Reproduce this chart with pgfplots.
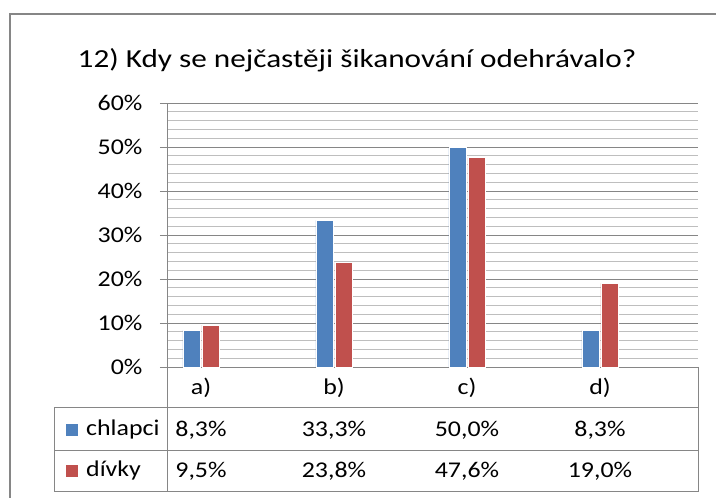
\documentclass[border=0pt]{standalone}
\usepackage{pgfplots}
\pgfplotsset{compat=1.18}
\usepackage{fontspec}
\setmainfont{Carlito}[FakeStretch=1.15]
\newfontfamily\titlefamily{Carlito}[FakeStretch=1.2]
\definecolor{cblue}{RGB}{79,129,189}
\definecolor{cred}{RGB}{192,80,77}
\definecolor{gmaj}{RGB}{134,134,134}
\definecolor{gmin}{RGB}{190,190,190}
\newcommand{\bodyfont}{\fontsize{22.5}{24}\selectfont}
\begin{document}
\begin{tikzpicture}
\useasboundingbox (-168pt,-131pt) rectangle (548pt,367pt);
\draw[gmaj, line width=1.2pt] (-158pt,-140pt) -- (-158pt,353pt) -- (560pt,353pt);
\node[font=\titlefamily\fontsize{26}{28}\selectfont] at (189pt,307pt) {12) Kdy se nejčastěji šikanování odehrávalo?};
\begin{axis}[
  at={(0pt,0pt)}, anchor=south west,
  scale only axis, width=530pt, height=264pt,
  xmin=-0.248, xmax=3.737, ymin=0, ymax=60,
  axis x line*=bottom, axis y line*=left,
  axis line style={draw=gmaj, line width=1pt, -},
  xtick=\empty,
  ytick={0,10,20,30,40,50,60},
  yticklabels={0\%,10\%,20\%,30\%,40\%,50\%,60\%},
  minor y tick num=4,
  ymajorgrids, yminorgrids,
  major grid style={draw=gmaj, line width=1pt},
  minor grid style={draw=gmin, line width=0.9pt},
  tick align=outside, major tick length=8pt, minor tick length=0pt,
  tick style={draw=gmaj, line width=1pt},
  yticklabel style={font=\bodyfont, anchor=east, xshift=-14pt},
  ybar=2pt, bar width=17pt,
  clip=false,
]
\addplot[fill=cblue, draw=white, line width=0.6pt] coordinates {(0,8.3) (1,33.3) (2,50.0) (3,8.3)};
\addplot[fill=cred, draw=white, line width=0.6pt] coordinates {(0,9.5) (1,23.8) (2,47.6) (3,19.0)};
\node[font=\bodyfont] at ([yshift=-21pt]axis cs:0,0) {a)};
\node[font=\bodyfont] at ([yshift=-21pt]axis cs:1,0) {b)};
\node[font=\bodyfont] at ([yshift=-21pt]axis cs:2,0) {c)};
\node[font=\bodyfont] at ([yshift=-21pt]axis cs:3,0) {d)};
\node[font=\bodyfont] at ([yshift=-63pt]axis cs:0,0) {8,3\%};
\node[font=\bodyfont] at ([yshift=-63pt]axis cs:1,0) {33,3\%};
\node[font=\bodyfont] at ([yshift=-63pt]axis cs:2,0) {50,0\%};
\node[font=\bodyfont] at ([yshift=-63pt]axis cs:3,0) {8,3\%};
\node[font=\bodyfont] at ([yshift=-104pt]axis cs:0,0) {9,5\%};
\node[font=\bodyfont] at ([yshift=-104pt]axis cs:1,0) {23,8\%};
\node[font=\bodyfont] at ([yshift=-104pt]axis cs:2,0) {47,6\%};
\node[font=\bodyfont] at ([yshift=-104pt]axis cs:3,0) {19,0\%};
\end{axis}
\draw[gmaj, line width=1pt] (0pt,0pt) -- (0pt,-125pt);
\draw[gmaj, line width=1pt] (530pt,0pt) -- (530pt,-125pt);
\draw[gmaj, line width=1pt] (-113pt,-41pt) rectangle (530pt,-125pt);
\draw[gmaj, line width=1pt] (-113pt,-84pt) -- (530pt,-84pt);
\fill[cblue] (-102pt,-69pt) rectangle (-90pt,-57pt);
\fill[cred] (-102pt,-110pt) rectangle (-90pt,-98pt);
\node[font=\bodyfont, anchor=west, inner sep=0pt] at (-82pt,-63pt) {chlapci};
\node[font=\bodyfont, anchor=west, inner sep=0pt] at (-82pt,-104pt) {dívky};
\end{tikzpicture}
\end{document}
